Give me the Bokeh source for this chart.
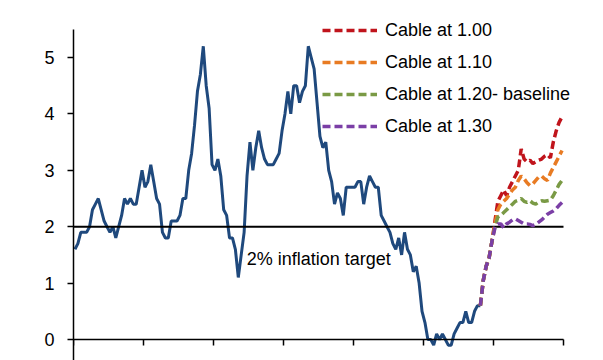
import numpy as np
from bokeh.plotting import figure
from bokeh.models import (LinearAxis, FixedTicker, Label, Legend, LegendItem,
                          Range1d, CustomJSTickFormatter)
from bokeh.embed import file_html
from bokeh.resources import INLINE

# ---------------- data ----------------
START_YEAR = 2005  # first month = Jan 2005
cpi_2005 = [1.6, 1.7, 1.9, 1.9, 1.9, 2.0, 2.3, 2.4, 2.5, 2.3, 2.1, 2.0]
cpi_2006 = [1.9, 2.0, 1.8, 2.0, 2.2, 2.5, 2.4, 2.5, 2.4, 2.4, 2.7, 3.0]
cpi_2007 = [2.7, 2.8, 3.1, 2.8, 2.5, 2.4, 1.9, 1.8, 1.8, 2.1, 2.1, 2.1]
cpi_2008 = [2.2, 2.5, 2.5, 3.0, 3.3, 3.8, 4.4, 4.7, 5.2, 4.5, 4.1, 3.1]
cpi_2009 = [3.0, 3.2, 2.9, 2.3, 2.2, 1.8, 1.8, 1.6, 1.1, 1.5, 1.9, 2.9]
cpi_2010 = [3.5, 3.0, 3.4, 3.7, 3.4, 3.2, 3.1, 3.1, 3.1, 3.2, 3.3, 3.7]
cpi_2011 = [4.0, 4.4, 4.0, 4.5, 4.5, 4.2, 4.4, 4.5, 5.2, 5.0, 4.8, 4.2]
cpi_2012 = [3.6, 3.4, 3.5, 3.0, 2.8, 2.4, 2.6, 2.5, 2.2, 2.7, 2.7, 2.7]
cpi_2013 = [2.7, 2.8, 2.8, 2.4, 2.7, 2.9, 2.8, 2.7, 2.7, 2.2, 2.1, 2.0]
cpi_2014 = [1.9, 1.7, 1.6, 1.8, 1.5, 1.9, 1.6, 1.5, 1.2, 1.3, 1.0, 0.5]
cpi_2015 = [0.3, 0.0, 0.0, -0.1, 0.1, 0.0, 0.1, 0.0, -0.1, -0.1, 0.1, 0.2]
cpi_2016 = [0.3, 0.3, 0.5, 0.3, 0.3, 0.5, 0.6, 0.6]

PROJ_START = 139  # Aug 2016, months since Jan 2005
proj_common = [0.6, 1.05, 1.3, 1.45, 1.75]
cable_100 = proj_common + [2.1, 2.45, 2.55, 2.65, 2.55, 2.7, 2.8, 2.9, 3.0, 3.38, 3.2, 3.15,
                           3.18, 3.12, 3.15, 3.18, 3.2, 3.25, 3.28, 3.22, 3.5, 3.7, 3.85, 3.95]
cable_110 = proj_common + [2.05, 2.3, 2.4, 2.45, 2.5, 2.58, 2.65, 2.7, 2.82, 2.9, 2.85, 2.78,
                           2.73, 2.76, 2.82, 2.88, 2.9, 2.85, 2.82, 2.95, 3.05, 3.15, 3.25, 3.35]
cable_120 = proj_common + [2.0, 2.17, 2.2, 2.25, 2.3, 2.35, 2.4, 2.45, 2.47, 2.5, 2.45, 2.43,
                           2.46, 2.42, 2.4, 2.44, 2.46, 2.45, 2.46, 2.47, 2.55, 2.65, 2.75, 2.82]
cable_130 = proj_common + [1.98, 2.05, 2.05, 1.98, 2.05, 2.08, 2.12, 2.14, 2.11, 2.08, 2.05, 2.05,
                           2.04, 2.02, 2.04, 2.08, 2.12, 2.17, 2.22, 2.25, 2.28, 2.32, 2.38, 2.43]

series_labels = ["Cable at 1.00", "Cable at 1.10", "Cable at 1.20- baseline", "Cable at 1.30"]
TARGET = 2.0
TARGET_LABEL = "2% inflation target"
y_ticks = [0, 1, 2, 3, 4, 5]
x_ticks = [2005, 2007, 2009, 2011, 2013, 2015, 2017, 2019]

# ---------------- build ----------------
cpi_actual = (cpi_2005 + cpi_2006 + cpi_2007 + cpi_2008 + cpi_2009 + cpi_2010 +
              cpi_2011 + cpi_2012 + cpi_2013 + cpi_2014 + cpi_2015 + cpi_2016)
x_actual = START_YEAR + (np.arange(len(cpi_actual)) + 0.5) / 12.0
x_proj = START_YEAR + (PROJ_START + np.arange(len(cable_100)) + 0.5) / 12.0

FONT = "Liberation Sans"
colors = ["#C0141C", "#E87B23", "#7A9A45", "#7B3FA6"]

Y_START, Y_AXIS_TOP, Y_END = -0.3725, 5.5, 6.011
X_END = 2020.143

p = figure(width=603, height=360,
           x_range=Range1d(x_ticks[0], X_END), y_range=Range1d(Y_START, Y_END),
           output_backend="svg", toolbar_location=None, x_axis_location=None,
           min_border_left=73, min_border_right=0, min_border_top=0, min_border_bottom=0)
p.grid.visible = False
p.outline_line_color = None
p.background_fill_color = "white"
p.border_fill_color = "white"

# y axis
p.yaxis.ticker = FixedTicker(ticks=y_ticks)
p.yaxis.bounds = (Y_START, Y_AXIS_TOP)
p.yaxis.axis_line_width = 1.5
p.yaxis.axis_line_color = "black"
p.yaxis.major_tick_line_width = 1.5
p.yaxis.major_tick_line_color = "black"
p.yaxis.major_tick_out = 6
p.yaxis.major_tick_in = 0
p.yaxis.minor_tick_line_color = None
p.yaxis.major_label_standoff = 13
p.yaxis.major_label_text_font = FONT
p.yaxis.major_label_text_font_size = "18px"
p.yaxis.major_label_text_color = "black"

# x axis drawn at y = 0
xaxis = LinearAxis(fixed_location=0, ticker=FixedTicker(ticks=x_ticks),
                   bounds=(x_ticks[0], x_ticks[-1]),
                   formatter=CustomJSTickFormatter(code="return ''"),
                   axis_line_width=1.5, axis_line_color="black",
                   major_tick_out=6, major_tick_in=0, major_tick_line_width=1.5,
                   major_tick_line_color="black", minor_tick_line_color=None,
                   major_label_text_font_size="0px", major_label_standoff=0)
p.add_layout(xaxis, "below")

# actual CPI
p.line(x_actual, cpi_actual, line_color="#1F497D", line_width=3)

# target line across the axis span
p.line([x_ticks[0], x_ticks[-1]], [TARGET, TARGET], line_color="black", line_width=2)

# projections
renderers = []
for ys, c in zip([cable_100, cable_110, cable_120, cable_130], colors):
    r = p.line(x_proj, ys, line_color=c, line_width=3.5, line_dash="8 4")
    renderers.append(r)

p.add_layout(Label(x=2009.95, y=TARGET, y_offset=-32, text=TARGET_LABEL,
                   text_font=FONT, text_font_size="18px", text_color="black",
                   text_baseline="alphabetic", text_align="left"))

legend = Legend(items=[LegendItem(label=lab, renderers=[r]) for lab, r in zip(series_labels, renderers)],
                location=(249, 223.5), orientation="vertical",
                label_text_font=FONT, label_text_font_size="18px", label_text_color="black",
                glyph_width=55, glyph_height=20, label_height=20, label_standoff=8,
                spacing=11, padding=0, margin=0, border_line_color=None,
                background_fill_alpha=0)
p.add_layout(legend, "center")

open("out.html", "w").write(file_html(p, INLINE))
